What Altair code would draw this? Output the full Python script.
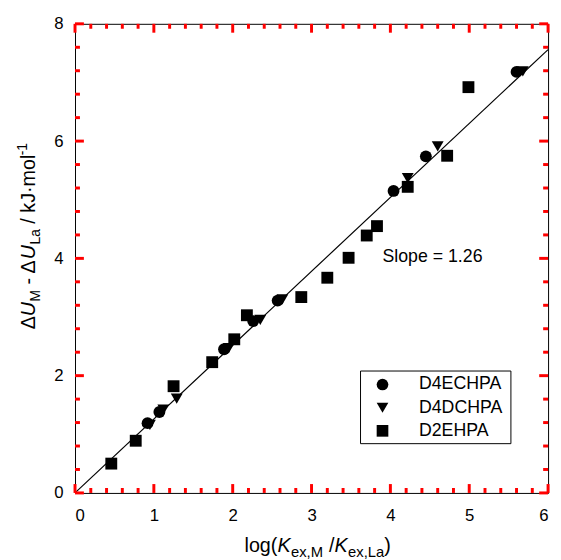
import altair as alt
import pandas as pd

# ---------------- data ----------------
series_names = ["D4ECHPA", "D4DCHPA", "D2EHPA"]
series_shapes = ["circle", "triangle-down", "square"]

d4echpa_x = [0.92, 1.07, 1.89, 2.26, 2.57, 4.04, 4.45, 5.60]
d4echpa_y = [1.19, 1.38, 2.45, 2.93, 3.28, 5.15, 5.74, 7.18]

d4dchpa_x = [0.95, 1.12, 1.29, 1.95, 2.35, 2.63, 4.22, 4.60, 5.68]
d4dchpa_y = [1.16, 1.42, 1.61, 2.47, 2.95, 3.30, 5.37, 5.91, 7.19]

d2ehpa_x = [0.46, 0.77, 1.25, 1.74, 2.02, 2.18, 2.87, 3.20, 3.47, 3.70, 3.83, 4.22, 4.72, 4.99]
d2ehpa_y = [0.50, 0.89, 1.82, 2.23, 2.62, 3.03, 3.34, 3.67, 4.01, 4.39, 4.55, 5.22, 5.75, 6.92]

fit_x = [0, 6]
fit_y = [0, 7.56]

slope_text = "Slope = 1.26"
slope_x = [3.9]
slope_y = [4.02]

x_major = [0, 1, 2, 3, 4, 5, 6]
x_minor = [round(i * 0.2, 1) for i in range(31) if i % 5 != 0]
y_major = [0, 2, 4, 6, 8]
y_minor = [round(i * 0.4, 1) for i in range(21) if i % 5 != 0]

# ---------------- layout ----------------
FONT = "Liberation Sans"
W, H = 480, 476
XMAX, YMAX = 6.0, 8.0
MAJ, MIN = 9, 5

rows = []
for name, xs, ys in [("D4ECHPA", d4echpa_x, d4echpa_y),
                     ("D4DCHPA", d4dchpa_x, d4dchpa_y),
                     ("D2EHPA", d2ehpa_x, d2ehpa_y)]:
    for a, b in zip(xs, ys):
        rows.append({"series": name, "x": a, "y": b})
pts_df = pd.DataFrame(rows)

xscale = alt.Scale(domain=[0, XMAX], nice=False, zero=False)
yscale = alt.Scale(domain=[0, YMAX], nice=False, zero=False)
x_axis = alt.Axis(values=x_major, format="d", title=None, labelPadding=15)
y_axis = alt.Axis(values=y_major, format="d", title=None, labelPadding=12)


def xe(f):
    return alt.X(f, type="quantitative", scale=xscale, axis=x_axis)


def ye(f):
    return alt.Y(f, type="quantitative", scale=yscale, axis=y_axis)


points = alt.Chart(pts_df).mark_point(filled=True, opacity=1, color="black", size=145).encode(
    x=xe("x"),
    y=ye("y"),
    shape=alt.Shape("series:N",
                    scale=alt.Scale(domain=series_names, range=series_shapes),
                    legend=alt.Legend(title=None, orient="none", legendX=303, legendY=357,
                                      padding=0, symbolOffset=0, symbolSize=140,
                                      symbolFillColor="black", symbolStrokeColor="black",
                                      symbolStrokeWidth=0, labelFont=FONT, labelFontSize=18,
                                      labelColor="black", labelOffset=28, rowPadding=5.5)),
)

fit = alt.Chart(pd.DataFrame({"x": fit_x, "y": fit_y})).mark_line(
    color="black", strokeWidth=1.2).encode(x=xe("x"), y=ye("y"))

# inward tick marks (data units through the shared scales)
xt_rows = []
for vals, ln in [(x_major, MAJ), (x_minor, MIN)]:
    d = ln / H * YMAX
    for v in vals:
        xt_rows.append({"v": v, "a": 0.0, "b": d})
        xt_rows.append({"v": v, "a": YMAX, "b": YMAX - d})
yt_rows = []
for vals, ln in [(y_major, MAJ), (y_minor, MIN)]:
    d = ln / W * XMAX
    for v in vals:
        yt_rows.append({"v": v, "a": 0.0, "b": d})
        yt_rows.append({"v": v, "a": XMAX, "b": XMAX - d})

xticks = alt.Chart(pd.DataFrame(xt_rows)).mark_rule(color="red", strokeWidth=3).encode(
    x=xe("v"), y=ye("a"), y2="b:Q")
yticks = alt.Chart(pd.DataFrame(yt_rows)).mark_rule(color="red", strokeWidth=3).encode(
    y=ye("v"), x=xe("a"), x2="b:Q")

slope = alt.Chart(pd.DataFrame({"x": slope_x, "y": slope_y, "t": [slope_text]})).mark_text(
    align="left", baseline="middle", font=FONT, fontSize=18, color="black").encode(
    x=xe("x"), y=ye("y"), text="t:N")

legend_box = alt.Chart(pd.DataFrame({"a": [0]})).mark_rect(
    fillOpacity=0, stroke="black", strokeWidth=1).encode(
    x=alt.value(289.7), x2=alt.value(442.3), y=alt.value(352.3), y2=alt.value(426))

# ---------------- rich-text axis titles ----------------
WID = {'l': 222, 'o': 556, 'g': 556, '(': 333, ')': 333, 'K': 667, 'e': 556, 'x': 500,
       ',': 278, 'M': 833, ' ': 278, '/': 278, 'L': 556, 'a': 556, 'Δ': 668, 'U': 722,
       '-': 333, 'k': 500, 'J': 500, '·': 278, 'm': 833, '1': 556}


def tw(s, size):
    return sum(WID.get(c, 556) for c in s) * size / 1000.0


BIG, SMALL, XSMALL = 20, 14, 15
x_pieces = [("log(", BIG, "normal", 0, 0), ("K", BIG, "italic", 0, 0),
            ("ex,M", XSMALL, "normal", 5, 0.5), ("/", BIG, "normal", 0, 6),
            ("K", BIG, "italic", 0, 0), ("ex,La", XSMALL, "normal", 5, 0.5),
            (")", BIG, "normal", 0, 0)]
y_pieces = [("Δ", BIG, "normal", 0, 0), ("U", BIG, "italic", 0, 0),
            ("M", SMALL, "normal", 5, 0.5), ("- Δ", BIG, "normal", 0, 5.6),
            ("U", BIG, "italic", 0, 0), ("La", SMALL, "normal", 5, 0.5),
            ("/ kJ·mol", BIG, "normal", 0, 5.6), ("-1", SMALL, "normal", -8, 0.5)]

title_layers = []
cur = 172.0
base_y = 536.0
for t, s, st, sh, gap in x_pieces:
    cur += gap
    title_layers.append(alt.Chart(pd.DataFrame({"t": [t]})).mark_text(
        align="left", baseline="alphabetic", font=FONT, fontSize=s, fontStyle=st,
        color="black").encode(text="t:N", x=alt.value(cur), y=alt.value(base_y + sh)))
    cur += tw(t, s)

cur = 0.0
start_y = 310.0
base_x = -41.0
for t, s, st, sh, gap in y_pieces:
    cur += gap
    title_layers.append(alt.Chart(pd.DataFrame({"t": [t]})).mark_text(
        align="left", baseline="alphabetic", font=FONT, fontSize=s, fontStyle=st,
        angle=270, color="black").encode(text="t:N", x=alt.value(base_x + sh),
                                         y=alt.value(start_y - cur)))
    cur += tw(t, s)

chart = alt.layer(fit, points, slope, legend_box, xticks, yticks, *title_layers).properties(
    width=W, height=H,
    autosize=alt.AutoSizeParams(type="none"),
    padding={"left": 68, "top": 12, "right": 5, "bottom": 64},
).configure_view(stroke="black", strokeWidth=1).configure_axis(
    domain=False, ticks=False, tickSize=0, grid=False,
    labelFont=FONT, labelFontSize=17, labelColor="black",
)

chart.save("out.html", embed_options={"renderer": "svg", "actions": False})
